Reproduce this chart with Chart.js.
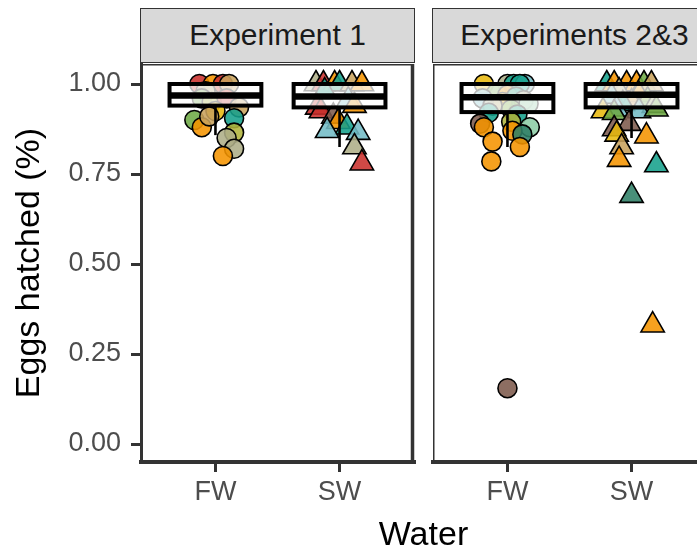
<!DOCTYPE html>
<html>
<head>
<meta charset="utf-8">
<script src="https://cdn.jsdelivr.net/npm/chart.js@4.4.1/dist/chart.umd.min.js"></script>
<style>
  html, body { margin: 0; padding: 0; background: #fff; overflow: hidden; }
  #wrap { position: relative; width: 697px; height: 552px; overflow: hidden; background: #fff;
          font-family: 'Liberation Sans', Arial, Helvetica, sans-serif; }
  canvas { position: absolute; top: 0; }
  .strip { position: absolute; top: 8px; height: 55px; box-sizing: border-box; background: #d9d9d9;
           border: 1.5px solid #333; color: #1a1a1a; font-size: 30px; line-height: 52px; text-align: center; }
  #xtitle { position: absolute; left: 141px; width: 565px; top: 513px; font-size: 34px; line-height: 40px;
            text-align: center; color: #000; }
</style>
</head>
<body>
<div id="wrap">
  <canvas id="c1" width="420" height="552" style="left:0px"></canvas>
  <canvas id="c2" width="300" height="552" style="left:420px"></canvas>
  <div class="strip" id="s1" style="left:140px;width:275px"></div>
  <div class="strip" id="s2" style="left:432px;width:285px"></div>
  <div id="xtitle"></div>
</div>
<script>
// ---------- data ----------
const categories = ['FW', 'SW'];
const panelTitles = ['Experiment 1', 'Experiments 2&3'];
const yTicks = [0, 0.25, 0.5, 0.75, 1];
const xTitle = 'Water';
const yTitle = 'Eggs hatched (%)';

// Experiment 1 - FW (circles)
const exp1FW       = [1.00, 1.00, 1.00, 1.00, 0.98, 0.96, 0.95, 0.96, 0.935, 0.925, 0.90, 0.88, 0.91, 0.905, 0.865, 0.85, 0.82, 0.80];
const exp1FWJitter = [-0.13, -0.02, 0.06, 0.11, -0.08, -0.11, -0.03, 0.09, 0.19, 0.0, -0.17, -0.11, -0.05, 0.15, 0.15, 0.09, 0.15, 0.06];
const exp1FWGroup  = ['red','orange','red','tan','sage','green','olive','red','tan','gold','green','orange','tan','teal','olive','sage','sage','orange'];

// Experiment 1 - SW (triangles)
const exp1SW       = [1, 1, 1, 1, 1, 1, 0.98, 0.955, 0.94, 0.935, 0.925, 0.91, 0.895, 0.88, 0.87, 0.865, 0.825, 0.78];
const exp1SWJitter = [-0.19, -0.13, -0.04, 0.0, 0.1, 0.18, -0.12, 0.07, 0.12, -0.18, -0.15, -0.05, -0.01, 0.06, -0.10, 0.15, 0.12, 0.18];
const exp1SWGroup  = ['sage','red','orange','teal','tan','orange','teal','lightblue','orange','red','red','brown','orange','teal','lightblue','lightblue','sage','red'];

// Experiments 2&3 - FW (circles)
const exp23FW       = [1, 1, 1, 1, 1, 0.975, 0.97, 0.965, 0.96, 0.955, 0.95, 0.945, 0.94, 0.93, 0.92, 0.915, 0.89, 0.895, 0.88, 0.88, 0.87, 0.86, 0.84, 0.825, 0.785, 0.155];
const exp23FWJitter = [-0.19, 0.0, 0.05, 0.14, 0.1, -0.09, 0.0, 0.07, -0.2, 0.13, -0.04, 0.17, -0.12, 0.03, -0.15, 0.08, -0.22, 0.03, -0.19, 0.18, 0.04, 0.12, -0.12, 0.1, -0.13, 0.0];
const exp23FWGroup  = ['gold','sage','teal','lightblue','teal','green','orange','teal','lightblue','sage','gold','mint','sage','green','teal','teal','brown','olive','orange','mint','orange','darkteal','orange','orange','orange','brown'];

// Experiments 2&3 - SW (triangles)
const exp23SW       = [1, 1, 1, 1, 1, 1, 0.98, 0.97, 0.965, 0.955, 0.95, 0.945, 0.94, 0.93, 0.925, 0.92, 0.925, 0.93, 0.89, 0.875, 0.86, 0.855, 0.825, 0.79, 0.775, 0.69, 0.33];
const exp23SWJitter = [-0.2, -0.14, -0.04, 0.04, 0.1, 0.16, -0.1, 0.06, -0.16, 0.13, 0.0, -0.07, 0.18, -0.12, -0.23, -0.14, 0.06, 0.2, -0.02, -0.14, -0.12, 0.12, -0.08, -0.1, 0.2, 0.0, 0.17];
const exp23SWGroup  = ['teal','orange','orange','orange','green','tan','sage','orange','lightblue','green','tan','teal','sage','lightblue','gold','green','lightblue','green','brown','brown','gold','orange','tan','orange','teal','darkteal','orange'];

// Box-plot summaries [FW, SW]
const exp1Q1   = [0.940, 0.935];
const exp1Med  = [0.968, 0.965];
const exp1Q3   = [1.000, 1.000];
const exp1Lo   = [0.858, 0.825];
const exp1Hi   = [1.000, 1.000];
const exp23Q1  = [0.922, 0.935];
const exp23Med = [0.963, 0.970];
const exp23Q3  = [1.000, 1.000];
const exp23Lo  = [0.825, 0.850];
const exp23Hi  = [1.000, 1.000];

// ---------- styles ----------
const palette = {
  red: '#c9302c', orange: '#f59400', tan: '#c8a25c', green: '#6eaa45', olive: '#b0b43b',
  teal: '#16a08c', lightblue: '#73bcc6', sage: '#aeae88', brown: '#7d5a4c', mint: '#8ccca5',
  gold: '#e8b80e', darkteal: '#2f8066'
};
function rgba(hex, a) {
  const n = parseInt(hex.slice(1), 16);
  return `rgba(${(n >> 16) & 255},${(n >> 8) & 255},${n & 255},${a})`;
}
const FONT = "'Liberation Sans', Arial, Helvetica, sans-serif";

document.getElementById('s1').textContent = panelTitles[0];
document.getElementById('s2').textContent = panelTitles[1];
document.getElementById('xtitle').textContent = xTitle;

function makeDataset(values, jitter, groups, catIndex, style, radius) {
  return {
    data: values.map((v, i) => ({ x: catIndex + 1 + jitter[i], y: v })),
    pointStyle: style,
    pointRadius: radius,
    pointHoverRadius: radius,
    pointBackgroundColor: groups.map(g => rgba(palette[g], 0.88)),
    pointBorderColor: '#000',
    pointBorderWidth: 1.6,
    showLine: false
  };
}

const boxPlugin = {
  id: 'boxes',
  afterDatasetsDraw(chart, args, opts) {
    const { ctx, scales: { x, y } } = chart;
    const half = 0.37;
    ctx.save();
    for (let i = 0; i < opts.q1.length; i++) {
      const c = i + 1;
      const xl = x.getPixelForValue(c - half), xr = x.getPixelForValue(c + half), xc = x.getPixelForValue(c);
      const yq1 = y.getPixelForValue(opts.q1[i]), yq3 = y.getPixelForValue(opts.q3[i]);
      const ym = y.getPixelForValue(opts.med[i]);
      const ylo = y.getPixelForValue(opts.lo[i]), yhi = y.getPixelForValue(opts.hi[i]);
      ctx.strokeStyle = '#000';
      ctx.lineWidth = 2.6;
      ctx.beginPath();
      ctx.moveTo(xc, yq1); ctx.lineTo(xc, ylo);
      ctx.moveTo(xc, yq3); ctx.lineTo(xc, yhi);
      ctx.stroke();
      ctx.fillStyle = 'rgba(255,255,255,0.72)';
      ctx.fillRect(xl, yq3, xr - xl, yq1 - yq3);
      ctx.lineWidth = 4;
      ctx.strokeRect(xl, yq3, xr - xl, yq1 - yq3);
      ctx.lineWidth = 6.5;
      ctx.beginPath();
      ctx.moveTo(xl, ym); ctx.lineTo(xr, ym);
      ctx.stroke();
    }
    ctx.restore();
  }
};

const framePlugin = {
  id: 'frame',
  afterDraw(chart, args, opts) {
    const { ctx, chartArea: a } = chart;
    ctx.save();
    ctx.strokeStyle = '#333';
    ctx.lineWidth = 1.5;
    ctx.beginPath();
    ctx.moveTo(a.left, a.top + 0.75); ctx.lineTo(a.right, a.top + 0.75);
    if (opts.left) { ctx.moveTo(a.left + 0.75, a.top); ctx.lineTo(a.left + 0.75, a.bottom); }
    ctx.stroke();
    if (opts.right) {
      ctx.lineWidth = 3.5;
      ctx.beginPath();
      ctx.moveTo(a.right - 1.5, a.top); ctx.lineTo(a.right - 1.5, a.bottom + 2);
      ctx.stroke();
    }
    ctx.restore();
  }
};

function xScale() {
  return {
    type: 'linear', min: 0.4, max: 2.6,
    afterBuildTicks: s => { s.ticks = categories.map((c, i) => ({ value: i + 1 })); },
    afterFit: s => { s.height = 90; },
    ticks: { callback: v => categories[v - 1], color: '#4d4d4d', font: { family: FONT, size: 27 }, padding: 4, maxRotation: 0, autoSkip: false },
    grid: { drawOnChartArea: false, drawTicks: true, tickLength: 10, color: '#333', lineWidth: 3 },
    border: { display: true, color: '#333', width: 4 }
  };
}

function yScale(show) {
  return {
    type: 'linear', min: -0.05, max: 1 + 20 / 360, display: show,
    afterBuildTicks: s => { s.ticks = yTicks.map(v => ({ value: v })); },
    afterFit: s => { if (show) s.width = 141; },
    ticks: { callback: v => v.toFixed(2), color: '#4d4d4d', font: { family: FONT, size: 27 }, padding: 10 },
    grid: { drawOnChartArea: false, drawTicks: true, tickLength: 10, color: '#333', lineWidth: 3 },
    border: { display: true, color: '#333', width: 3 },
    title: { display: show, text: yTitle, color: '#000', font: { family: FONT, size: 34 }, padding: { top: 9, bottom: 0 } }
  };
}

function makeChart(id, fw, sw, box, pad, frame, showY) {
  return new Chart(document.getElementById(id), {
    type: 'scatter',
    data: {
      datasets: [
        makeDataset(fw[0], fw[1], fw[2], 0, 'circle', 9.5),
        makeDataset(sw[0], sw[1], sw[2], 1, 'triangle', 13.5)
      ]
    },
    options: {
      responsive: false, animation: false, devicePixelRatio: 1,
      layout: { padding: pad, autoPadding: false },
      scales: { x: xScale(), y: yScale(showY) },
      plugins: { legend: { display: false }, tooltip: { enabled: false }, boxes: box, frame: frame }
    },
    plugins: [boxPlugin, framePlugin]
  });
}

makeChart('c1',
  [exp1FW, exp1FWJitter, exp1FWGroup],
  [exp1SW, exp1SWJitter, exp1SWGroup],
  { q1: exp1Q1, med: exp1Med, q3: exp1Q3, lo: exp1Lo, hi: exp1Hi },
  { top: 64, right: 6, left: 0, bottom: 0 },
  { left: false, right: true }, true);

makeChart('c2',
  [exp23FW, exp23FWJitter, exp23FWGroup],
  [exp23SW, exp23SWJitter, exp23SWGroup],
  { q1: exp23Q1, med: exp23Med, q3: exp23Q3, lo: exp23Lo, hi: exp23Hi },
  { top: 64, right: 14, left: 13, bottom: 0 },
  { left: true, right: false }, false);
</script>
</body>
</html>
